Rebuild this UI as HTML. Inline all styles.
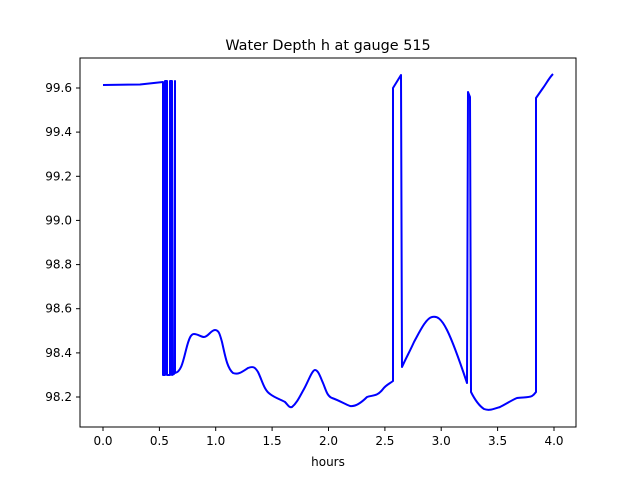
<!DOCTYPE html>
<html><head><style>body{margin:0;background:#fff}svg{display:block}</style></head><body>
<svg width="640" height="480" xmlns="http://www.w3.org/2000/svg" font-family="DejaVu Sans, Liberation Sans, sans-serif">
<rect width="640" height="480" fill="#fff"/>
<text x="328" y="50" font-size="14.4" text-anchor="middle">Water Depth h at gauge 515</text>
<path fill="none" stroke="#0000ff" stroke-width="2" stroke-linejoin="round" d="M103,85 L140,84.5 L163,82 L163,375 L165,375 L165,81 L167,81 L167,375 L170,375 L170,81 L172,81 L172,375 L174,374 L175,81 L175,373
C181,372 183,362 186,350 C189,338 191,334 194,334 C198,334 201,337 204,337 C208,337 211,330 215,330 C219,330 220,335 222,342 C225,355 227,368 233,373 C238,375 242,372 248,368 C253,366 255,367 258,372 C262,380 264,390 270,394 C275,398 282,400 285,402 C288,405 289,408 292,407 C297,403 300,396 304,389 C308,382 312,370 315,370 C318,370 320,376 323,383 C326,390 327,396 332,398 C338,400 345,404 350,406 C356,407 362,402 367,397 C372,395 377,397 383,389 C386,385 389,384 393,381
L393,88 L401,75 L402,367 C406,358 410,351 414,342 C419,333 426,318 432,317 C437,316 441,318 447,330 C453,342 460,362 467,383
L468,92 L470,97 L471,392 C474,398 478,405 484,409 C489,411 494,409 500,407 C506,404 512,400 517,398 C522,397 528,398 532,396 C534,395 535,393 536,392 L536,98 L543,88 C546,84 549,78 553,74"/>
<rect x="80" y="58" width="496" height="369" fill="none" stroke="#000" stroke-width="1"/>
<g stroke="#000">
<line x1="103" y1="427" x2="103" y2="431"/><line x1="159.4" y1="427" x2="159.4" y2="431"/><line x1="215.7" y1="427" x2="215.7" y2="431"/><line x1="272.1" y1="427" x2="272.1" y2="431"/><line x1="328.5" y1="427" x2="328.5" y2="431"/><line x1="384.9" y1="427" x2="384.9" y2="431"/><line x1="441.2" y1="427" x2="441.2" y2="431"/><line x1="497.6" y1="427" x2="497.6" y2="431"/><line x1="554" y1="427" x2="554" y2="431"/>
<line x1="76" y1="88" x2="80" y2="88"/><line x1="76" y1="132.1" x2="80" y2="132.1"/><line x1="76" y1="176.3" x2="80" y2="176.3"/><line x1="76" y1="220.4" x2="80" y2="220.4"/><line x1="76" y1="264.6" x2="80" y2="264.6"/><line x1="76" y1="308.7" x2="80" y2="308.7"/><line x1="76" y1="352.9" x2="80" y2="352.9"/><line x1="76" y1="397" x2="80" y2="397"/>
</g>
<g font-size="12" text-anchor="middle">
<text x="103" y="445">0.0</text><text x="159.4" y="445">0.5</text><text x="215.7" y="445">1.0</text><text x="272.1" y="445">1.5</text><text x="328.5" y="445">2.0</text><text x="384.9" y="445">2.5</text><text x="441.2" y="445">3.0</text><text x="497.6" y="445">3.5</text><text x="554" y="445">4.0</text>
<text x="328" y="466">hours</text>
</g>
<g font-size="12" text-anchor="end">
<text x="72" y="92">99.6</text><text x="72" y="136.1">99.4</text><text x="72" y="180.3">99.2</text><text x="72" y="224.4">99.0</text><text x="72" y="268.6">98.8</text><text x="72" y="312.7">98.6</text><text x="72" y="356.9">98.4</text><text x="72" y="401">98.2</text>
</g>
</svg>
</body></html>
